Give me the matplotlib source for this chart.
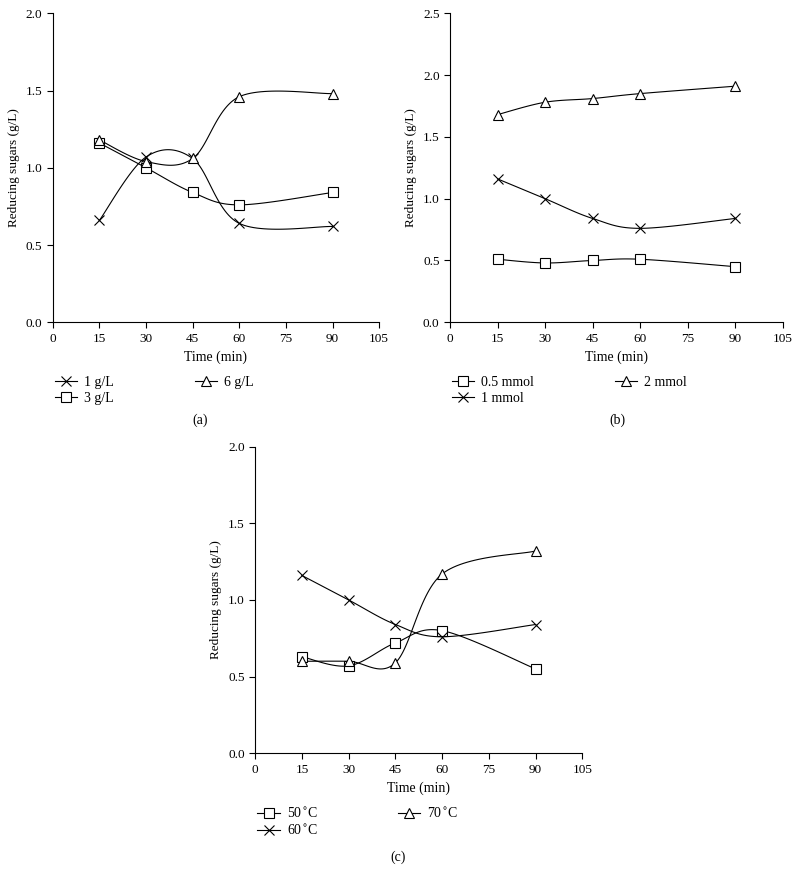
import numpy as np
import matplotlib
matplotlib.use("Agg")
import matplotlib.pyplot as plt

plt.rcParams["font.family"] = ["Liberation Serif", "DejaVu Serif"]

#### DATA ####

time = [15, 30, 45, 60, 90]

# (a) substrate concentration
labels_a = ["1 g/L", "3 g/L", "6 g/L"]
a_1g = [0.66, 1.07, 1.06, 0.64, 0.62]
a_3g = [1.16, 1.00, 0.84, 0.76, 0.84]
a_6g = [1.18, 1.04, 1.06, 1.46, 1.48]

# (b) catalyst amount
labels_b = ["0.5 mmol", "1 mmol", "2 mmol"]
b_05 = [0.51, 0.48, 0.50, 0.51, 0.45]
b_1 = [1.16, 1.00, 0.84, 0.76, 0.84]
b_2 = [1.68, 1.78, 1.81, 1.85, 1.91]

# (c) temperature
labels_c = ["50$^{\\circ}$C", "60$^{\\circ}$C", "70$^{\\circ}$C"]
c_50 = [0.63, 0.57, 0.72, 0.80, 0.55]
c_60 = [1.16, 1.00, 0.84, 0.76, 0.84]
c_70 = [0.60, 0.60, 0.59, 1.17, 1.32]

xticks = [0, 15, 30, 45, 60, 75, 90, 105]


def smooth(x, y, n=30):
    # catmull-rom style smoothing like a spreadsheet "smoothed line"
    x = np.asarray(x, float)
    y = np.asarray(y, float)
    px = np.concatenate([[x[0]], x, [x[-1]]])
    py = np.concatenate([[y[0]], y, [y[-1]]])
    xs, ys = [], []
    t = np.linspace(0, 1, n)
    for i in range(1, len(px) - 2):
        p0x, p1x, p2x, p3x = px[i - 1], px[i], px[i + 1], px[i + 2]
        p0y, p1y, p2y, p3y = py[i - 1], py[i], py[i + 1], py[i + 2]
        c1x = p1x + (p2x - p0x) / 6
        c1y = p1y + (p2y - p0y) / 6
        c2x = p2x - (p3x - p1x) / 6
        c2y = p2y - (p3y - p1y) / 6
        bx = (1-t)**3*p1x + 3*(1-t)**2*t*c1x + 3*(1-t)*t**2*c2x + t**3*p2x
        by = (1-t)**3*p1y + 3*(1-t)**2*t*c1y + 3*(1-t)*t**2*c2y + t**3*p2y
        xs.extend(bx)
        ys.extend(by)
    return xs, ys


def draw(ax, series, ymax, yticks):
    handles = []
    for y, marker, ms, label in series:
        sx, sy = smooth(time, y)
        ax.plot(sx, sy, color="black", lw=0.8, zorder=2)
        ax.plot(time, y, linestyle="none", marker=marker, ms=ms,
                mfc="white", mec="black", mew=0.8, zorder=3)
        h, = ax.plot([], [], color="black", lw=0.8, marker=marker, ms=ms,
                     mfc="white", mec="black", mew=0.8, label=label)
        handles.append(h)
    ax.set_xlim(0, 105)
    ax.set_ylim(0, ymax)
    ax.set_xticks(xticks)
    ax.set_yticks(yticks)
    ax.set_yticklabels(["%.1f" % v for v in yticks])
    ax.spines["top"].set_visible(False)
    ax.spines["right"].set_visible(False)
    for s in ["left", "bottom"]:
        ax.spines[s].set_linewidth(0.8)
    ax.tick_params(direction="out", length=4, width=0.8, labelsize=9.5)
    ax.set_xlabel("Time (min)", fontsize=10)
    ax.set_ylabel("Reducing sugars (g/L)", fontsize=9.5)
    ax.legend(handles=handles, ncol=2, loc="upper left",
              bbox_to_anchor=(-0.01, -0.155), frameon=False, fontsize=10,
              handlelength=1.6, handletextpad=0.5, columnspacing=5.8,
              labelspacing=0.2, borderaxespad=0)


fig = plt.figure(figsize=(8, 8.83), dpi=100)

ax_a = fig.add_axes([0.066, 0.635, 0.408, 0.35])
draw(ax_a, [(a_1g, "x", 7, labels_a[0]),
            (a_3g, "s", 6.5, labels_a[1]),
            (a_6g, "^", 7, labels_a[2])], 2.0, [0.0, 0.5, 1.0, 1.5, 2.0])

ax_b = fig.add_axes([0.5625, 0.635, 0.416, 0.35])
draw(ax_b, [(b_05, "s", 6.5, labels_b[0]),
            (b_1, "x", 7, labels_b[1]),
            (b_2, "^", 7, labels_b[2])], 2.5, [0.0, 0.5, 1.0, 1.5, 2.0, 2.5])

ax_c = fig.add_axes([0.319, 0.147, 0.409, 0.347])
draw(ax_c, [(c_50, "s", 6.5, labels_c[0]),
            (c_60, "x", 7, labels_c[1]),
            (c_70, "^", 7, labels_c[2])], 2.0, [0.0, 0.5, 1.0, 1.5, 2.0])

fig.text(0.25, 0.524, "(a)", ha="center", va="center", fontsize=10)
fig.text(0.772, 0.524, "(b)", ha="center", va="center", fontsize=10)
fig.text(0.497, 0.029, "(c)", ha="center", va="center", fontsize=10)

plt.savefig("out.png", dpi=100)
